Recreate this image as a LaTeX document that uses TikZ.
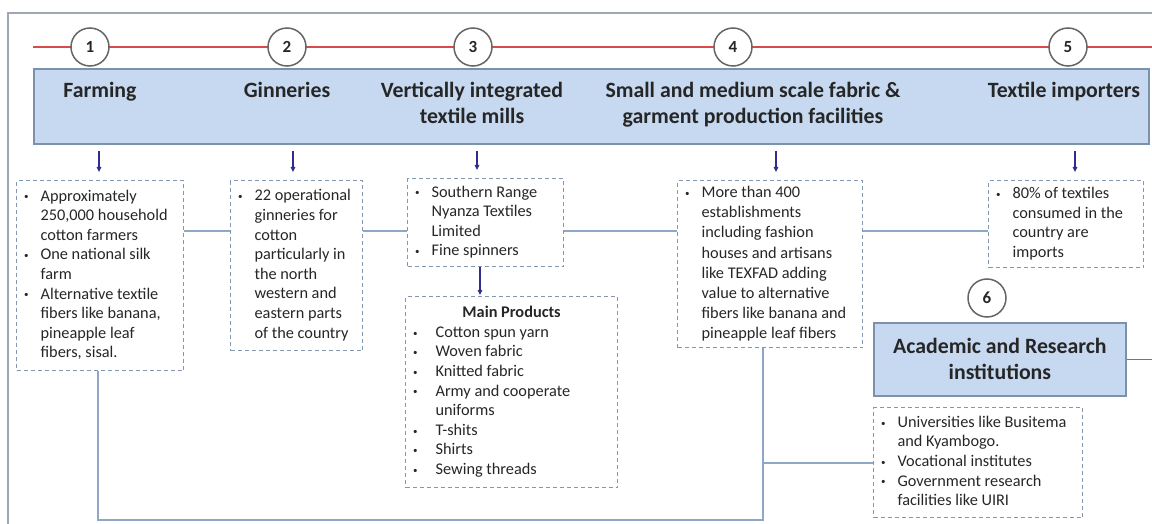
\documentclass[tikz,border=0pt]{standalone}
\usepackage{fontspec}
\setmainfont{Carlito}
\usetikzlibrary{arrows.meta}
\definecolor{framec}{HTML}{9EA7B3}
\definecolor{redl}{HTML}{D94A4A}
\definecolor{bfill}{HTML}{C6D9F0}
\definecolor{bdraw}{HTML}{7C92AC}
\definecolor{dashc}{HTML}{8497B0}
\definecolor{connc}{HTML}{8EA7C6}
\definecolor{arrc}{HTML}{2E2E8A}
\definecolor{txtc}{HTML}{262626}
\definecolor{circc}{HTML}{666666}
\newcommand\bl{\makebox[18pt][l]{\hspace{1.5pt}\raisebox{0.15ex}{\fontsize{9}{9}\selectfont\textbullet}}}
\newcommand\blw{\makebox[24pt][l]{\hspace{1.5pt}\raisebox{0.15ex}{\fontsize{9}{9}\selectfont\textbullet}}}
\newcommand\cl{\hspace*{18pt}}
\newcommand\clw{\hspace*{24pt}}
\newcommand\bx[2]{\makebox[\dimexpr#1pt-12pt\relax][l]{\begin{tabular}{@{}l@{}}#2\end{tabular}}}
\tikzset{
  framebox/.style={draw=framec, line width=2pt},
  redline/.style={draw=redl, line width=1.6pt},
  num/.style={circle, draw=circc, line width=1.5pt, fill=white, minimum size=38pt, inner sep=0pt, font=\fontsize{17}{17}\selectfont\bfseries, text=txtc},
  banner/.style={draw=bdraw, line width=1.8pt, fill=bfill, inner sep=0pt},
  head/.style={align=center, text=txtc, font=\fontsize{21.8}{26}\selectfont\bfseries, inner sep=0pt},
  dbox/.style={draw=dashc, line width=1.2pt, dash pattern=on 4pt off 3pt, anchor=north west, inner xsep=6pt, inner ysep=0pt, text=txtc, font=\fontsize{16.3}{19.6}\selectfont},
  conn/.style={draw=connc, line width=1.8pt},
  arr/.style={draw=arrc, line width=1.3pt, -{Triangle[length=5pt,width=4.5pt]}},
}
\begin{document}
\begin{tikzpicture}[x=1pt,y=-1pt]
\useasboundingbox (0,0) rectangle (1152,524);
\begin{scope}
\clip (0,0) rectangle (1152,524);
\draw[framebox] (8,13) rectangle (1175,545);
% red timeline
\coordinate (rl) at (33,47);
\coordinate (rr) at (1160,47);
\draw[redline] (rl) -- (rr);
% banner
\node[banner, anchor=north west, minimum width=1115pt, minimum height=75pt] (ban) at (33,68) {};
\node[num] (c1) at (90,47) {1};
\node[num] (c2) at (287,47) {2};
\node[num] (c3) at (473,47) {3};
\node[num] (c4) at (733,47) {4};
\node[num] (c5) at (1068,47) {5};
% headings
\node[head, anchor=north] (h1) at (100,79) {\strut Farming};
\node[head, anchor=north] (h2) at (287,79) {\strut Ginneries};
\node[head, anchor=north] (h3) at (472,79) {\strut Vertically integrated\\textile mills\strut};
\node[head, anchor=north] (h4) at (753,79) {\strut Small and medium scale fabric \&\\garment production facilities\strut};
\node[head, anchor=north] (h5) at (1064,79) {\strut Textile importers};
% boxes
\node[dbox, minimum width=167pt, minimum height=190pt] (b1) at (16,180) {\bx{167}{%
\bl Approximately\\ \cl 250,000 household\\ \cl cotton farmers\\
\bl One national silk\\ \cl farm\\
\bl Alternative textile\\ \cl fibers like banana,\\ \cl pineapple leaf\\ \cl fibers, sisal.}};
\node[dbox, minimum width=132pt, minimum height=170pt] (b2) at (230,180) {\bx{132}{%
\bl 22 operational\\ \cl ginneries for\\ \cl cotton\\ \cl particularly in\\ \cl the north\\ \cl western and\\ \cl eastern parts\\ \cl of the country}};
\node[dbox, minimum width=156pt, minimum height=88pt] (b3) at (407,178) {\bx{156}{%
\bl Southern Range\\ \cl Nyanza Textiles\\ \cl Limited\\
\bl Fine spinners}};
\node[dbox, minimum width=212pt, minimum height=191pt] (mp) at (405,296) {\bx{212}{%
\makebox[200pt][c]{\bfseries Main Products}\\
\blw Cotton spun yarn\\ \blw Woven fabric\\ \blw Knitted fabric\\
\blw Army and cooperate\\ \clw uniforms\\ \blw T-shits\\ \blw Shirts\\ \blw Sewing threads}};
\node[dbox, minimum width=185pt, minimum height=167pt, font=\fontsize{16.3}{20.2}\selectfont] (b4) at (677,180) {\bx{185}{%
\bl More than 400\\ \cl establishments\\ \cl including fashion\\ \cl houses and artisans\\ \cl like TEXFAD adding\\ \cl value to alternative\\ \cl fibers like banana and\\ \cl pineapple leaf fibers}};
\node[dbox, minimum width=155pt, minimum height=87pt] (b5) at (988,180) {\bx{155}{%
\bl 80\% of textiles\\ \cl consumed in the\\ \cl country are\\ \cl imports}};
\node[banner, anchor=north west, minimum width=252pt, minimum height=73pt] (b6) at (873,322) {};
\node[head] (h6) at (b6.center) {Academic and Research\\institutions};
\node[num] (c6) at (987,298) {6};
\node[dbox, minimum width=209pt, minimum height=110pt] (b7) at (873,407) {\bx{209}{%
\bl Universities like Busitema\\ \cl and Kyambogo.\\
\bl Vocational institutes\\
\bl Government research\\ \cl facilities like UIRI}};
% arrows from banner
\coordinate (x1) at (99,0);
\coordinate (x2) at (293,0);
\coordinate (x3) at (477,0);
\coordinate (x4) at (776,0);
\coordinate (x5) at (1075,0);
\coordinate (x6) at (480,0);
\foreach \i in {1,...,5}{
  \draw[arr, shorten <=6pt, shorten >=8pt] (ban.south -| x\i) -- (b\i.north -| x\i);
}
\draw[arr, shorten >=1pt] (b3.south -| x6) -- (mp.north -| x6);
% connectors
\coordinate (yc) at (0,231);
\draw[conn] (b1.east |- yc) -- (b2.west |- yc);
\draw[conn] (b2.east |- yc) -- (b3.west |- yc);
\draw[conn] (b3.east |- yc) -- (b4.west |- yc);
\draw[conn] (b4.east |- yc) -- (b5.west |- yc);
\coordinate (j1) at (763,520);
\coordinate (j0) at (98,520);
\draw[conn] (b4.south -| j1) -- (j1) -- (j0) -- (b1.south -| j0);
\draw[conn] (j1 |- b7.west) -- (b7.west);
\draw[redline] (b6.east) -- (b6.east -| rr);
\end{scope}
\end{tikzpicture}
\end{document}
